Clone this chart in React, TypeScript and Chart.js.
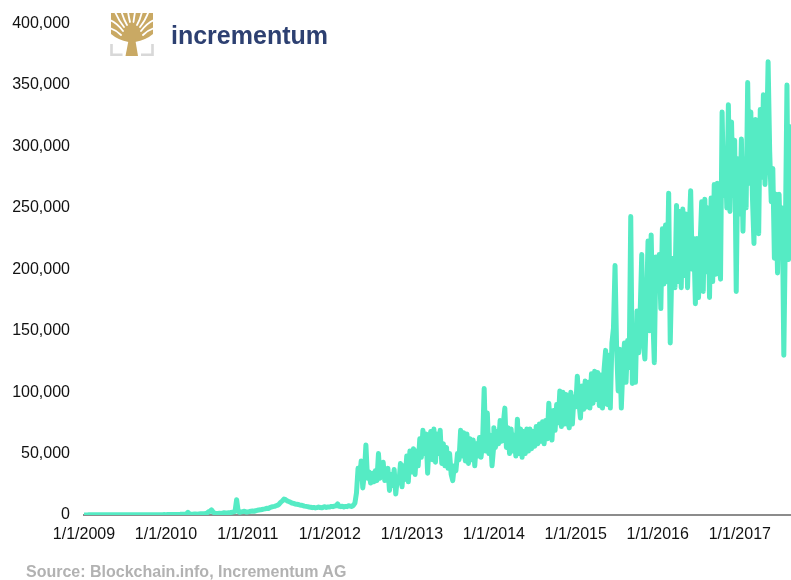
import React, { useEffect, useRef } from 'react';
import { Chart, registerables } from 'chart.js';

Chart.register(...registerables);

// ---- Data (daily bitcoin transactions, sampled weekly from Jan 1 of each year) ----
const xTickLabels = ['1/1/2009', '1/1/2010', '1/1/2011', '1/1/2012', '1/1/2013', '1/1/2014', '1/1/2015', '1/1/2016', '1/1/2017'];
const tickYears = [2009, 2010, 2011, 2012, 2013, 2014, 2015, 2016, 2017];
const yMin = 0;
const yMax = 400000;
const yStep = 50000;
const xMaxDay = 3150;
const sampleStepDays = 7;

const tx2009 = [
  40, 70, 90, 110, 120, 130, 140, 150, 160, 150,
  140, 160, 170, 180, 170, 160, 180, 190, 200, 190,
  180, 170, 190, 200, 210, 190, 200, 220, 210, 200,
  190, 210, 220, 230, 210, 200, 220, 240, 230, 220,
  210, 230, 250, 240, 230, 250, 260, 280, 270, 290,
  300, 320,
];
const tx2010 = [
  300, 350, 320, 400, 380, 420, 450, 500, 480, 520,
  600, 550, 700, 900, 2200, 800, 700, 650, 750, 800,
  700, 900, 1000, 1100, 1000, 1200, 1500, 2500, 3000, 4200,
  2500, 1500, 1200, 1300, 1400, 1200, 1500, 1800, 1600, 1700,
  1900, 2000, 2200, 2500, 3000, 12500, 3000, 2200, 2500, 2800,
  3000, 2500,
];
const tx2011 = [
  2500, 2800, 3000, 3200, 3000, 3500, 3800, 4000,
  4200, 4500, 4800, 5000, 5500, 5200, 6000, 6500,
  6800, 7000, 7500, 8000, 9000, 10500, 11500,
  13000, 12500, 11500,
  11000, 10500, 9800, 9500, 9000, 8800,
  8500, 8200, 8000, 7600, 7200, 7000, 6800, 6500, 6300, 6000,
  6200, 5800, 6000, 6500, 6100, 5900, 6300, 6800, 6200, 6500,
];
const tx2012 = [
  6500, 7000, 6800, 7200, 7500, 9000, 7000, 6800, 7200, 6500,
  7000, 6800, 7500, 7200, 6900, 7800, 9700, 18000, 38000, 30000,
  44000, 22000, 33000, 57000, 30000, 35000, 26000, 34000, 27000, 36000,
  28000, 50000, 30000, 37000, 43000, 28000, 36000, 38000, 20000, 33000,
  24000, 37000, 17000, 30000, 26000, 42000, 23000, 40000, 29000, 48000,
  27000, 52000,
];
const tx2013 = [
  35000, 54000, 33000, 52000, 40000, 62000, 47000, 69000, 50000, 66000,
  34000, 60000, 68000, 45000, 70000, 43000, 66000, 50000, 69000, 42000,
  58000, 40000, 55000, 38000, 50000, 33000, 28000, 40000, 36000, 50000,
  45000, 69000, 48000, 67000, 44000, 66000, 42000, 62000, 45000, 61000,
  40000, 58000, 48000, 63000, 47000, 60000, 103000, 52000, 83000, 50000,
  65000, 40000, 55000,
];
const tx2014 = [
  71000, 55000, 68000, 58000, 77000, 60000, 74000, 87000, 55000, 71000,
  50000, 70000, 52000, 65000, 48000, 78000, 50000, 70000, 47000, 68000,
  50000, 70000, 52000, 70000, 54000, 68000, 56000, 72000, 58000, 74000,
  60000, 76000, 58000, 77000, 62000, 91000, 70000, 61000, 85000, 69000,
  90000, 75000, 101000, 72000, 100000, 74000, 98000, 76000, 71000, 100000,
  74000, 96000,
];
const tx2015 = [
  88000, 113000, 92000, 79000, 105000, 86000, 109000, 88000, 108000, 87000,
  115000, 91000, 117000, 94000, 116000, 89000, 114000, 87000, 118000, 134000,
  90000, 130000, 87000, 140000, 152000, 203000, 136000, 101000, 135000, 87000,
  120000, 140000, 108000, 142000, 120000, 243000, 107000, 150000, 108000, 166000,
  132000, 165000, 212000, 140000, 127000, 168000, 223000, 150000, 228000, 163000,
  124000, 210000,
];
const tx2016 = [
  185000, 212000, 168000, 233000, 188000, 236000, 190000, 262000, 140000, 200000,
  209000, 185000, 252000, 190000, 247000, 185000, 249000, 195000, 245000, 185000,
  230000, 264000, 200000, 225000, 172000, 225000, 177000, 220000, 255000, 182000,
  257000, 198000, 250000, 177000, 258000, 190000, 269000, 196000, 270000, 210000,
  192000, 328000, 260000, 298000, 250000, 334000, 247000, 320000, 260000, 305000,
  182000, 290000,
];
const tx2017 = [
  245000, 306000, 231000, 290000, 250000, 352000, 270000, 328000, 260000, 221000,
  322000, 265000, 229000, 330000, 275000, 342000, 269000, 300000, 369000, 296000,
  255000, 282000, 209000, 261000, 197000, 261000, 210000, 250000, 130000, 230000,
  350000, 208000, 316000,
];

const seriesByYear: [number, number[]][] = [
  [2009, tx2009], [2010, tx2010], [2011, tx2011], [2012, tx2012], [2013, tx2013],
  [2014, tx2014], [2015, tx2015], [2016, tx2016], [2017, tx2017],
];

const DAY_MS = 86400000;
const dayOfYearStart = (y: number) => Math.round((Date.UTC(y, 0, 1) - Date.UTC(2009, 0, 1)) / DAY_MS);

const FONT = "'Liberation Sans', Arial, Helvetica, sans-serif";

export default function App() {
  const canvasRef = useRef<HTMLCanvasElement | null>(null);

  useEffect(() => {
    const canvas = canvasRef.current;
    if (!canvas) return;
    const points = seriesByYear.flatMap(([year, vals]) =>
      vals.map((v, i) => ({ x: dayOfYearStart(year) + i * sampleStepDays, y: v }))
    );
    const tickDays = tickYears.map(dayOfYearStart);

    const chart = new Chart(canvas, {
      type: 'line',
      data: {
        datasets: [
          {
            data: points,
            borderColor: '#55EBC4',
            backgroundColor: '#55EBC4',
            borderWidth: 5,
            pointRadius: 0,
            tension: 0,
            borderJoinStyle: 'round',
            borderCapStyle: 'round',
            fill: false,
          },
        ],
      },
      options: {
        responsive: false,
        animation: false,
        devicePixelRatio: 1,
        layout: { padding: { top: 21, left: 0, right: 0, bottom: 0 } },
        plugins: { legend: { display: false }, tooltip: { enabled: false } },
        scales: {
          x: {
            type: 'linear',
            min: 0,
            max: xMaxDay,
            grid: { display: false, drawTicks: false },
            border: { display: true, color: '#8c8c8c', width: 2 },
            afterBuildTicks: (scale: any) => {
              scale.ticks = tickDays.map((d) => ({ value: d }));
            },
            afterFit: (scale: any) => {
              scale.height = 65;
            },
            ticks: {
              autoSkip: false,
              maxRotation: 0,
              padding: 10,
              color: '#111',
              font: { family: FONT, size: 16 },
              callback: (_v: any, i: number) => xTickLabels[i],
            },
          },
          y: {
            min: yMin,
            max: yMax,
            grid: { display: false, drawTicks: false },
            border: { display: false },
            afterFit: (scale: any) => {
              scale.width = 84;
            },
            ticks: {
              stepSize: yStep,
              padding: 14,
              color: '#111',
              font: { family: FONT, size: 16 },
              callback: (v: any) => Number(v).toLocaleString('en-US'),
            },
          },
        },
      },
    } as any);
    return () => chart.destroy();
  }, []);

  const gold = '#C9A964';
  return (
    <div style={{ position: 'absolute', left: 0, top: 0, width: 791, height: 580, background: '#fff', overflow: 'hidden' }}>
      <canvas ref={canvasRef} width={791} height={580} style={{ position: 'absolute', left: 0, top: 0, width: 791, height: 580 }} />
      <svg width={44} height={45} viewBox="0 0 44 45" style={{ position: 'absolute', left: 110, top: 12 }}>
        <path d="M18.5 30 Q8 28 1 22 L1 1 L43 1 L43 22 Q36 28 25 30 Z" fill={gold} />
        <g fill="none" stroke="#fff" strokeWidth={1.8} strokeLinecap="round">
          <path d="M5 0 Q9 9 14 15" />
          <path d="M11.5 0 Q14 8 17 13" />
          <path d="M18 0 Q19 6 20 10" />
          <path d="M25 0 Q24 6 23.5 10" />
          <path d="M32 0 Q30 8 27 13" />
          <path d="M38.5 0 Q35 9 30 15" />
          <path d="M0 8 Q7 11 13 19" />
          <path d="M44 8 Q37 11 31 19" />
          <path d="M0 16 Q6 18 11 23" />
          <path d="M44 16 Q38 18 33 23" />
        </g>
        <polygon points="15.5,44 28,44 25,26 19,26" fill={gold} />
        <g fill="none" stroke="#D8D8D8" strokeWidth={2.6}>
          <path d="M1.5 32 V42.7 H12.5" />
          <path d="M31 42.7 H42.5 V32" />
        </g>
      </svg>
      <div
        style={{
          position: 'absolute', left: 171, top: 23, fontFamily: FONT, fontWeight: 'bold',
          fontSize: 25, lineHeight: '25px', color: '#2D4071', whiteSpace: 'nowrap',
        }}
      >
        incrementum
      </div>
      <div
        style={{
          position: 'absolute', left: 26, top: 563, fontFamily: FONT, fontWeight: 'bold',
          fontSize: 16, lineHeight: '18px', color: '#B2B2B2', whiteSpace: 'nowrap',
        }}
      >
        Source: Blockchain.info, Incrementum AG
      </div>
    </div>
  );
}
